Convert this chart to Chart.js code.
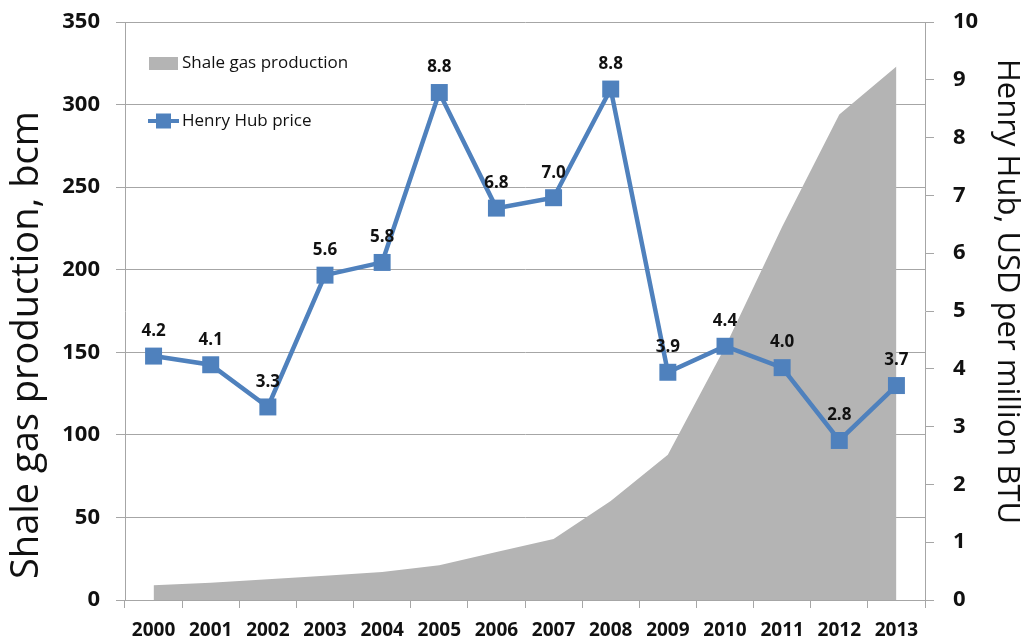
<!DOCTYPE html>
<html>
<head>
<meta charset="utf-8">
<script src="https://cdn.jsdelivr.net/npm/chart.js@4.4.1/dist/chart.umd.min.js"></script>
<style>
  html, body { margin: 0; padding: 0; background: #ffffff; }
  #wrap { width: 1029px; height: 644px; }
</style>
</head>
<body>
<div id="wrap"><canvas id="c" width="1029" height="644"></canvas></div>
<script>
// ---- data ----
const years = ['2000','2001','2002','2003','2004','2005','2006','2007','2008','2009','2010','2011','2012','2013'];
const shaleGas = [9, 10.5, 12.5, 14.7, 17, 21, 29, 37, 60, 88, 153, 226, 294, 323];
const henryHub = [4.22, 4.07, 3.34, 5.62, 5.84, 8.78, 6.78, 6.96, 8.84, 3.94, 4.39, 4.02, 2.76, 3.71];
const leftTicks = [0, 50, 100, 150, 200, 250, 300, 350];
const rightTicks = [0, 1, 2, 3, 4, 5, 6, 7, 8, 9, 10];
const seriesNames = ['Henry Hub price', 'Shale gas production'];
const axisTitles = ['Shale gas production, bcm', 'Henry Hub, USD per million BTU'];

const FONT = "'Open Sans', 'DejaVu Sans', sans-serif";
const BLUE = '#4f81bd';
const GRAY = '#b4b4b4';
const AXIS = '#a6a6a6';
const INK = '#111111';

const valueLabels = {
  id: 'valueLabels',
  afterDatasetsDraw(chart) {
    const ctx = chart.ctx;
    const meta = chart.getDatasetMeta(0);
    ctx.save();
    ctx.font = 'bold 17px ' + FONT;
    ctx.fillStyle = INK;
    ctx.textAlign = 'center';
    ctx.textBaseline = 'middle';
    meta.data.forEach((pt, i) => {
      ctx.fillText(henryHub[i].toFixed(1), pt.x, pt.y - 25);
    });
    ctx.restore();
  }
};

const innerLegend = {
  id: 'innerLegend',
  afterDraw(chart) {
    const ctx = chart.ctx;
    const a = chart.chartArea;
    ctx.save();
    const x0 = a.left + 24;
    ctx.fillStyle = GRAY;
    ctx.fillRect(x0, a.top + 35, 29, 13);
    ctx.font = '17px ' + FONT;
    ctx.fillStyle = INK;
    ctx.textBaseline = 'middle';
    ctx.textAlign = 'left';
    ctx.fillText(seriesNames[1], x0 + 33, a.top + 41);
    const y2 = a.top + 99;
    ctx.strokeStyle = BLUE;
    ctx.lineWidth = 4;
    ctx.beginPath();
    ctx.moveTo(x0 - 1, y2);
    ctx.lineTo(x0 + 30, y2);
    ctx.stroke();
    ctx.fillStyle = BLUE;
    ctx.fillRect(x0 + 7, y2 - 7.5, 15, 15);
    ctx.fillStyle = INK;
    ctx.fillText(seriesNames[0], x0 + 33, y2);
    ctx.restore();
  }
};

// axis titles drawn beside the scales
const axisTitlePlugin = {
  id: 'axisTitlePlugin',
  afterDraw(chart) {
    const ctx = chart.ctx;
    const a = chart.chartArea;
    const yl = chart.scales.y, yr = chart.scales.y1;
    ctx.save();
    ctx.fillStyle = INK;
    ctx.textBaseline = 'alphabetic';
    ctx.textAlign = 'left';
    // left title: reads bottom to top
    ctx.save();
    ctx.font = '38px ' + FONT;
    ctx.translate(yl.left + 38, a.bottom - 21);
    ctx.rotate(-Math.PI / 2);
    ctx.fillText(axisTitles[0], 0, 0);
    ctx.restore();
    // right title: reads top to bottom
    ctx.save();
    ctx.font = '31px ' + FONT;
    ctx.translate(yr.right - 31, a.top + 37);
    ctx.rotate(Math.PI / 2);
    ctx.fillText(axisTitles[1], 0, 0);
    ctx.restore();
    ctx.restore();
  }
};

function noVPad(s) { s.paddingTop = 0; s.paddingBottom = 0; }

new Chart(document.getElementById('c'), {
  type: 'line',
  data: {
    labels: years,
    datasets: [
      {
        label: seriesNames[0],
        data: henryHub,
        yAxisID: 'y1',
        borderColor: BLUE,
        backgroundColor: BLUE,
        borderWidth: 4.5,
        pointStyle: 'rect',
        pointRadius: 12,
        pointHoverRadius: 12,
        pointBorderWidth: 0,
        pointBackgroundColor: BLUE,
        tension: 0,
        fill: false
      },
      {
        label: seriesNames[1],
        data: shaleGas,
        yAxisID: 'y',
        borderWidth: 0,
        borderColor: GRAY,
        backgroundColor: GRAY,
        pointRadius: 0,
        pointHoverRadius: 0,
        tension: 0,
        fill: 'origin'
      }
    ]
  },
  options: {
    responsive: false,
    animation: false,
    events: [],
    layout: { padding: { top: 22, left: 0, right: 0, bottom: 0 } },
    plugins: {
      legend: { display: false },
      tooltip: { enabled: false }
    },
    scales: {
      x: {
        type: 'category',
        offset: true,
        grid: { display: true, offset: true, drawOnChartArea: false, drawTicks: true, tickLength: 8, color: AXIS, lineWidth: 1 },
        border: { display: true, color: AXIS, width: 1 },
        ticks: { font: { family: FONT, size: 19, weight: 'bold' }, color: INK, padding: 11, maxRotation: 0, autoSkip: false },
        afterFit(s) { s.height = 44; s.paddingLeft = 0; s.paddingRight = 0; }
      },
      y: {
        position: 'left',
        min: 0, max: 350,
        afterBuildTicks(s) { s.ticks = leftTicks.map(v => ({ value: v })); },
        grid: { display: true, drawOnChartArea: true, drawTicks: true, tickLength: 9, color: AXIS, lineWidth: 1 },
        border: { display: true, color: AXIS, width: 1 },
        ticks: { font: { family: FONT, size: 22, weight: 'bold' }, color: INK, padding: 16 },
        afterFit(s) { s.width = 125; noVPad(s); }
      },
      y1: {
        position: 'right',
        min: 0, max: 10,
        afterBuildTicks(s) { s.ticks = rightTicks.map(v => ({ value: v })); },
        grid: { display: true, drawOnChartArea: false, drawTicks: true, tickLength: 9, color: AXIS, lineWidth: 1 },
        border: { display: true, color: AXIS, width: 1 },
        ticks: { font: { family: FONT, size: 22, weight: 'bold' }, color: INK, padding: 19 },
        afterFit(s) { s.width = 104; noVPad(s); }
      }
    }
  },
  plugins: [valueLabels, innerLegend, axisTitlePlugin]
});
</script>
</body>
</html>
